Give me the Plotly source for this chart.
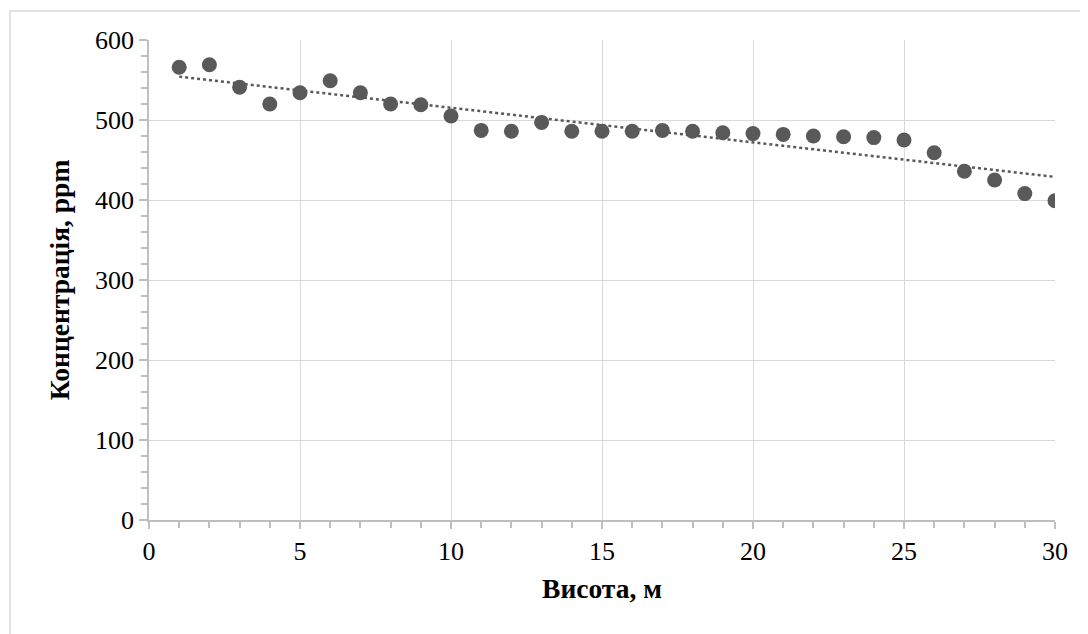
import numpy as np
import plotly.graph_objects as go

heights = list(range(1, 31))
concentration = [566, 569, 541, 520, 534, 549, 534, 520, 519, 505,
                 487, 486, 497, 486, 486, 486, 487, 486, 484, 483,
                 482, 480, 479, 478, 475, 459, 436, 425, 408, 399]

x_title = "Висота, м"
y_title = "Концентрація, ppm"

# linear trendline (least squares fit of the data)
slope, intercept = np.polyfit(heights, concentration, 1)
trend_x = [heights[0], heights[-1]]
trend_y = [slope * v + intercept for v in trend_x]

# page has an 8px body margin, so the figure starts at (8, 8)
OFF = 8
W, H = 1088 - OFF, 634 - OFF
ml, mr, mt, mb = 149 - OFF, 33, 40 - OFF, 114
pw, ph = W - ml - mr, H - mt - mb

fig = go.Figure()
fig.add_trace(go.Scatter(x=trend_x, y=trend_y, mode="lines",
                         line=dict(color="#595959", width=2.5, dash="dot"),
                         hoverinfo="skip", showlegend=False))
fig.add_trace(go.Scatter(x=heights, y=concentration, mode="markers",
                         marker=dict(color="#595959", size=15),
                         showlegend=False))

font_family = "Liberation Serif, Times New Roman, serif"
fig.update_layout(
    width=W, height=H,
    margin=dict(l=ml, r=mr, t=mt, b=mb),
    paper_bgcolor="white", plot_bgcolor="white",
    font=dict(family=font_family, size=26, color="black"),
    showlegend=False,
    shapes=[dict(type="rect", xref="paper", yref="paper",
                 x0=(10 - OFF - ml) / pw, x1=(W + 20 - ml) / pw,
                 y0=-(H + 20 - mt - ph) / ph, y1=(H - (11 - OFF) - mb) / ph,
                 line=dict(color="#d9d9d9", width=1.5), layer="below")],
)
fig.update_xaxes(
    range=[0, 30], dtick=5, tick0=0,
    showgrid=True, gridcolor="#d9d9d9", gridwidth=1.3,
    showline=True, linecolor="#bfbfbf", linewidth=1.5,
    ticks="outside", ticklen=7, tickcolor="#bfbfbf", tickwidth=1.5,
    minor=dict(dtick=1, ticks="outside", ticklen=6, tickcolor="#bfbfbf",
               tickwidth=1.5, showgrid=False),
    zeroline=False,
    tickfont=dict(size=26, family=font_family),
    title=dict(text="<b>" + x_title + "</b>", font=dict(size=27.5, family=font_family),
               standoff=14),
)
fig.update_yaxes(
    range=[0, 600], dtick=100, tick0=0,
    showgrid=True, gridcolor="#d9d9d9", gridwidth=1.3,
    showline=True, linecolor="#bfbfbf", linewidth=1.5,
    ticks="outside", ticklen=8, tickcolor="#bfbfbf", tickwidth=1.5,
    minor=dict(dtick=20, ticks="outside", ticklen=6, tickcolor="#bfbfbf",
               tickwidth=1.5, showgrid=False),
    zeroline=False,
    tickfont=dict(size=26, family=font_family),
    title=dict(text="<b>" + y_title + "</b>", font=dict(size=27.5, family=font_family),
               standoff=17),
)

fig.write_html("out.html")
